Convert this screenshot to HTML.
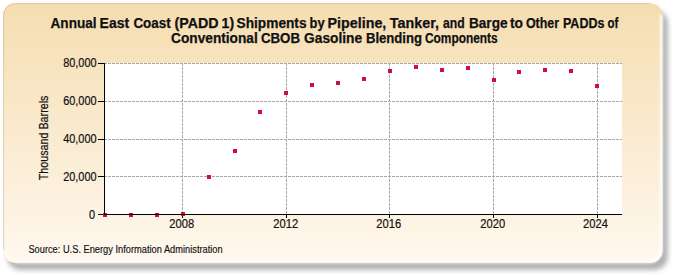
<!DOCTYPE html>
<html><head><meta charset="utf-8"><style>
html,body{margin:0;padding:0;background:#fff;width:675px;height:275px;overflow:hidden}
svg{display:block}
.t{font-family:"Liberation Sans",sans-serif;font-size:12px;fill:#111;stroke:#111;stroke-width:0.2px}
.ttl{font-family:"Liberation Sans",sans-serif;font-size:14px;font-weight:bold;fill:#111;stroke:#111;stroke-width:0.25px}
.src{font-family:"Liberation Sans",sans-serif;font-size:10px;fill:#111;stroke:#111;stroke-width:0.15px}
</style></head><body>
<svg width="675" height="275" viewBox="0 0 675 275">
<defs>
<linearGradient id="bg" x1="0" y1="0" x2="0" y2="1">
<stop offset="0" stop-color="#f5ddb0"/>
<stop offset="1" stop-color="#fff8ee"/>
</linearGradient>
<filter id="sh" x="-5%" y="-10%" width="110%" height="120%">
<feGaussianBlur stdDeviation="2.6"/>
</filter>
<filter id="gl" x="-5%" y="-10%" width="110%" height="120%"><feGaussianBlur stdDeviation="1.1"/></filter>
<filter id="bl" x="-2%" y="-2%" width="104%" height="104%"><feGaussianBlur stdDeviation="0.5"/></filter>
</defs>
<rect x="7" y="10" width="661" height="260" rx="14" ry="14" fill="#b2b2b2" filter="url(#sh)"/>
<rect x="3.2" y="3.2" width="659.3" height="259.6" rx="12" ry="12" fill="url(#bg)" filter="url(#bl)"/>
<path d="M 661.3 15 V 250 A 12.5 12.5 0 0 1 649 262 H 15" fill="none" stroke="#fff" stroke-opacity="0.8" stroke-width="3" filter="url(#gl)"/>
<path d="M 3.6 250 V 15 A 11.5 11.5 0 0 1 15 3.6 H 650" fill="none" stroke="rgba(150,140,100,0.3)" stroke-width="1"/>
<text x="50.54" y="28" class="ttl" textLength="46.04" lengthAdjust="spacingAndGlyphs">Annual</text>
<text x="99.62" y="28" class="ttl" textLength="29.58" lengthAdjust="spacingAndGlyphs">East</text>
<text x="133.38" y="28" class="ttl" textLength="37.36" lengthAdjust="spacingAndGlyphs">Coast</text>
<text x="174.50" y="28" class="ttl" textLength="44.08" lengthAdjust="spacingAndGlyphs">(PADD</text>
<text x="221.58" y="28" class="ttl" textLength="12.50" lengthAdjust="spacingAndGlyphs">1)</text>
<text x="236.58" y="28" class="ttl" textLength="69.96" lengthAdjust="spacingAndGlyphs">Shipments</text>
<text x="309.54" y="28" class="ttl" textLength="15.04" lengthAdjust="spacingAndGlyphs">by</text>
<text x="327.58" y="28" class="ttl" textLength="58.76" lengthAdjust="spacingAndGlyphs">Pipeline,</text>
<text x="389.88" y="28" class="ttl" textLength="49.08" lengthAdjust="spacingAndGlyphs">Tanker,</text>
<text x="442.92" y="28" class="ttl" textLength="21.66" lengthAdjust="spacingAndGlyphs">and</text>
<text x="468.96" y="28" class="ttl" textLength="38.62" lengthAdjust="spacingAndGlyphs">Barge</text>
<text x="509.92" y="28" class="ttl" textLength="13.00" lengthAdjust="spacingAndGlyphs">to</text>
<text x="525.92" y="28" class="ttl" textLength="33.16" lengthAdjust="spacingAndGlyphs">Other</text>
<text x="562.96" y="28" class="ttl" textLength="41.50" lengthAdjust="spacingAndGlyphs">PADDs</text>
<text x="607.46" y="28" class="ttl" textLength="10.82" lengthAdjust="spacingAndGlyphs">of</text>
<text x="171.04" y="42.6" class="ttl" textLength="86.72" lengthAdjust="spacingAndGlyphs">Conventional</text>
<text x="260.88" y="42.6" class="ttl" textLength="39.20" lengthAdjust="spacingAndGlyphs">CBOB</text>
<text x="304.06" y="42.6" class="ttl" textLength="58.06" lengthAdjust="spacingAndGlyphs">Gasoline</text>
<text x="365.92" y="42.6" class="ttl" textLength="56.12" lengthAdjust="spacingAndGlyphs">Blending</text>
<text x="425.04" y="42.6" class="ttl" textLength="72.58" lengthAdjust="spacingAndGlyphs">Components</text>
<rect x="104" y="63" width="518" height="151" fill="#fff"/>
<line x1="104" y1="176.5" x2="622" y2="176.5" stroke="#a8a8a8" stroke-width="1" stroke-dasharray="3,1"/>
<line x1="104" y1="139.5" x2="622" y2="139.5" stroke="#a8a8a8" stroke-width="1" stroke-dasharray="3,1"/>
<line x1="104" y1="101.5" x2="622" y2="101.5" stroke="#a8a8a8" stroke-width="1" stroke-dasharray="3,1"/>
<line x1="104" y1="63.5" x2="622" y2="63.5" stroke="#a8a8a8" stroke-width="1" stroke-dasharray="3,1"/>
<line x1="182.5" y1="63" x2="182.5" y2="214" stroke="#a8a8a8" stroke-width="1" stroke-dasharray="3,1"/>
<line x1="286.5" y1="63" x2="286.5" y2="214" stroke="#a8a8a8" stroke-width="1" stroke-dasharray="3,1"/>
<line x1="389.5" y1="63" x2="389.5" y2="214" stroke="#a8a8a8" stroke-width="1" stroke-dasharray="3,1"/>
<line x1="493.5" y1="63" x2="493.5" y2="214" stroke="#a8a8a8" stroke-width="1" stroke-dasharray="3,1"/>
<line x1="597.5" y1="63" x2="597.5" y2="214" stroke="#a8a8a8" stroke-width="1" stroke-dasharray="3,1"/>
<line x1="98" y1="214.5" x2="104" y2="214.5" stroke="#000" stroke-width="1"/>
<text transform="translate(95.2,219) scale(0.91,1)" text-anchor="end" class="t">0</text>
<line x1="98" y1="176.5" x2="104" y2="176.5" stroke="#000" stroke-width="1"/>
<text transform="translate(96.6,181) scale(0.91,1)" text-anchor="end" class="t">20,000</text>
<line x1="98" y1="139.5" x2="104" y2="139.5" stroke="#000" stroke-width="1"/>
<text transform="translate(96.6,143) scale(0.91,1)" text-anchor="end" class="t">40,000</text>
<line x1="98" y1="101.5" x2="104" y2="101.5" stroke="#000" stroke-width="1"/>
<text transform="translate(96.6,105) scale(0.91,1)" text-anchor="end" class="t">60,000</text>
<line x1="98" y1="63.5" x2="104" y2="63.5" stroke="#000" stroke-width="1"/>
<text transform="translate(96.6,67) scale(0.91,1)" text-anchor="end" class="t">80,000</text>
<line x1="182.5" y1="215" x2="182.5" y2="218" stroke="#000" stroke-width="1"/>
<text transform="translate(181.7,228) scale(0.93,1)" text-anchor="middle" class="t">2008</text>
<line x1="286.5" y1="215" x2="286.5" y2="218" stroke="#000" stroke-width="1"/>
<text transform="translate(285.7,228) scale(0.93,1)" text-anchor="middle" class="t">2012</text>
<line x1="389.5" y1="215" x2="389.5" y2="218" stroke="#000" stroke-width="1"/>
<text transform="translate(388.7,228) scale(0.93,1)" text-anchor="middle" class="t">2016</text>
<line x1="493.5" y1="215" x2="493.5" y2="218" stroke="#000" stroke-width="1"/>
<text transform="translate(492.7,228) scale(0.93,1)" text-anchor="middle" class="t">2020</text>
<line x1="597.5" y1="215" x2="597.5" y2="218" stroke="#000" stroke-width="1"/>
<text transform="translate(595.5,228) scale(0.93,1)" text-anchor="middle" class="t">2024</text>
<rect x="103" y="213" width="4" height="4" fill="#d0103a"/>
<rect x="129" y="213" width="4" height="4" fill="#d0103a"/>
<rect x="155" y="213" width="4" height="4" fill="#d0103a"/>
<rect x="181" y="212" width="4" height="4" fill="#d0103a"/>
<rect x="207" y="175" width="4" height="4" fill="#d0103a"/>
<rect x="233" y="149" width="4" height="4" fill="#d0103a"/>
<rect x="258" y="110" width="4" height="4" fill="#d0103a"/>
<rect x="284" y="91" width="4" height="4" fill="#d0103a"/>
<rect x="310" y="83" width="4" height="4" fill="#d0103a"/>
<rect x="336" y="81" width="4" height="4" fill="#d0103a"/>
<rect x="362" y="77" width="4" height="4" fill="#d0103a"/>
<rect x="388" y="69" width="4" height="4" fill="#d0103a"/>
<rect x="414" y="65" width="4" height="4" fill="#d0103a"/>
<rect x="440" y="68" width="4" height="4" fill="#d0103a"/>
<rect x="466" y="66" width="4" height="4" fill="#d0103a"/>
<rect x="492" y="78" width="4" height="4" fill="#d0103a"/>
<rect x="517" y="70" width="4" height="4" fill="#d0103a"/>
<rect x="543" y="68" width="4" height="4" fill="#d0103a"/>
<rect x="569" y="69" width="4" height="4" fill="#d0103a"/>
<rect x="595" y="84" width="4" height="4" fill="#d0103a"/>
<line x1="104.5" y1="63" x2="104.5" y2="215" stroke="#000" stroke-width="1"/>
<line x1="104" y1="214.5" x2="622" y2="214.5" stroke="#000" stroke-width="1"/>
<text transform="translate(48,137.9) rotate(-90)" text-anchor="middle" class="t" style="font-size:12px" textLength="84.6" lengthAdjust="spacingAndGlyphs">Thousand Barrels</text>
<text x="28.4" y="253.2" class="src" textLength="194.3" lengthAdjust="spacingAndGlyphs">Source: U.S. Energy Information Administration</text>
</svg>
</body></html>
